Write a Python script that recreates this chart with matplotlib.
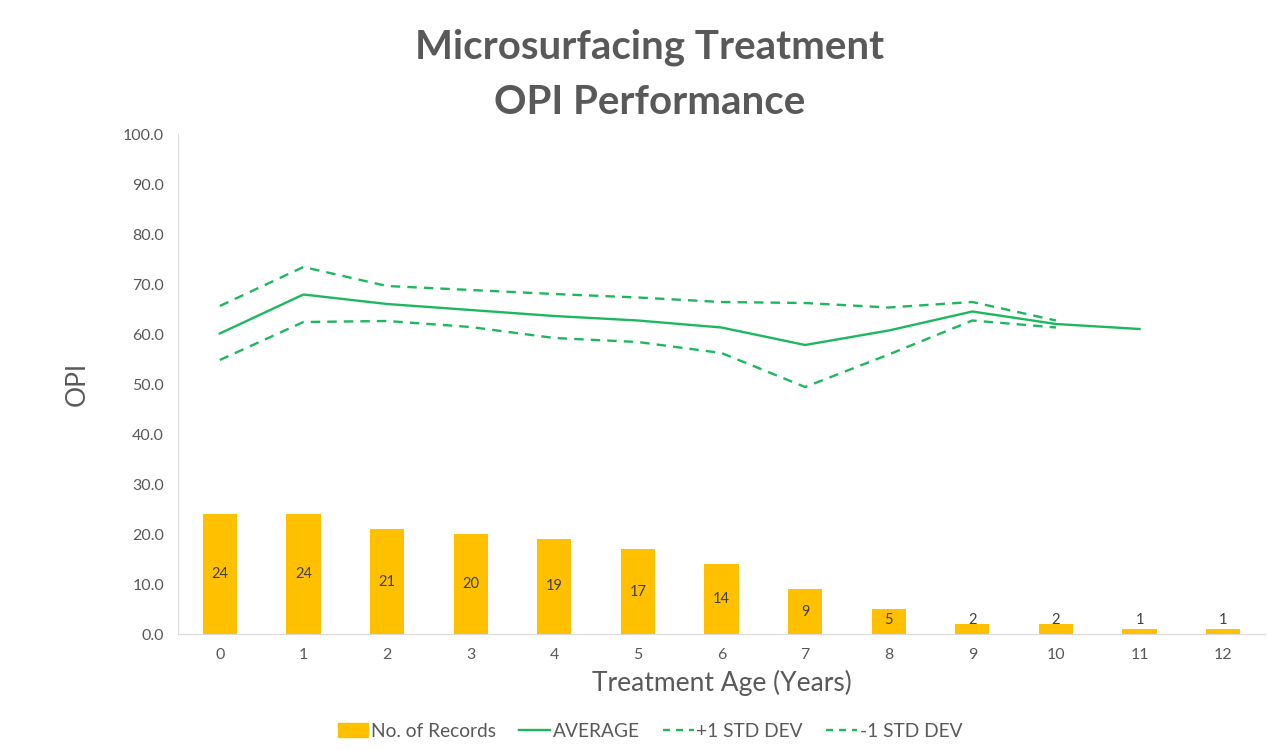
import matplotlib
matplotlib.use("Agg")
import matplotlib.pyplot as plt
from matplotlib.patches import Patch
from matplotlib.lines import Line2D

ages = list(range(13))
records = [24, 24, 21, 20, 19, 17, 14, 9, 5, 2, 2, 1, 1]
average = [60.1, 67.9, 66.0, 64.8, 63.6, 62.7, 61.3, 57.8, 60.7, 64.5, 62.0, 61.0]
plus_std = [65.6, 73.4, 69.6, 68.8, 68.0, 67.3, 66.4, 66.2, 65.3, 66.4, 62.7]
minus_std = [54.8, 62.4, 62.6, 61.4, 59.2, 58.4, 56.2, 49.4, 55.9, 62.7, 61.3]

plt.rcParams['font.family'] = ['Lato', 'DejaVu Sans']
bar_color = '#FFC000'
line_color = '#1DB85E'
text_gray = '#595959'

fig = plt.figure(figsize=(12.67, 7.5), dpi=100)
ax = fig.add_axes([178/1267, 1 - 634/750, (1265 - 178)/1267, 500/750])

ax.bar(ages, records, width=0.41, color=bar_color, zorder=2)
for x, v in zip(ages, records):
    ax.text(x, max(v / 2, 2.9), str(v), ha='center', va='center',
            fontsize=10.5, color='#404040', zorder=3)

ax.plot(ages[:len(average)], average, color=line_color, lw=1.7, zorder=4)
ax.plot(ages[:len(plus_std)], plus_std, color=line_color, lw=1.7, ls=(0, (4, 3)), zorder=4)
ax.plot(ages[:len(minus_std)], minus_std, color=line_color, lw=1.7, ls=(0, (4, 3)), zorder=4)

ax.set_xlim(-0.5, 12.5)
ax.set_ylim(0, 100)
ax.set_yticks(range(0, 101, 10))
ax.set_yticklabels([f"{v:.1f}" for v in range(0, 101, 10)])
ax.set_xticks(ages)
ax.tick_params(axis='both', length=0, labelsize=11.5, colors=text_gray, pad=10)
for s in ['top', 'right']:
    ax.spines[s].set_visible(False)
ax.spines['left'].set_color('#D9D9D9')
ax.spines['bottom'].set_color('#D9D9D9')

ax.set_ylabel('OPI', fontsize=19, color=text_gray, labelpad=24)
ax.set_xlabel('Treatment Age (Years)', fontsize=19, color=text_gray, labelpad=6)

fig.text(0.513, 0.937, 'Microsurfacing Treatment', ha='center', va='center',
         fontsize=29, fontweight='bold', color=text_gray)
fig.text(0.513, 0.864, 'OPI Performance', ha='center', va='center',
         fontsize=29, fontweight='bold', color=text_gray)

handles = [Patch(color=bar_color, label='No. of Records'),
           Line2D([], [], color=line_color, lw=1.7, label='AVERAGE'),
           Line2D([], [], color=line_color, lw=1.7, ls=(0, (3, 2.5)), label='+1 STD DEV'),
           Line2D([], [], color=line_color, lw=1.7, ls=(0, (3, 2.5)), label='-1 STD DEV')]
leg = fig.legend(handles=handles, loc='center', bbox_to_anchor=(0.513, 0.025), ncol=4,
                 frameon=False, fontsize=13.8, handlelength=1.6, columnspacing=1.2,
                 handletextpad=0.15)
for t in leg.get_texts():
    t.set_color(text_gray)

fig.savefig('out.png', dpi=100)
